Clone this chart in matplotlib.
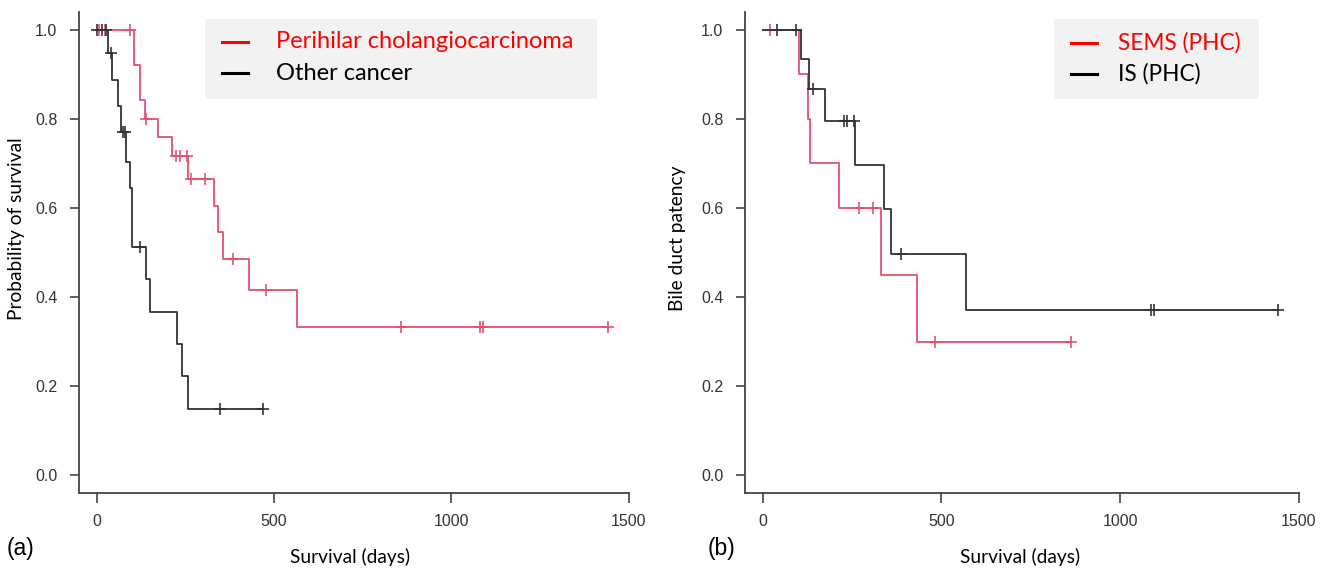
import numpy as np
import matplotlib
matplotlib.use("Agg")
import matplotlib.pyplot as plt
from matplotlib.patches import Rectangle
from matplotlib.lines import Line2D

# --- Kaplan-Meier curves (time in days, survival after each step) ---
# (a) Perihilar cholangiocarcinoma vs other cancer
phc_event_t = [105, 121, 135, 173, 213, 257, 330, 342, 356, 430, 566]
phc_event_s = [0.921, 0.843, 0.80, 0.76, 0.717, 0.665, 0.604, 0.545, 0.485, 0.416, 0.333]
phc_cens_t = [6, 22, 93, 140, 224, 234, 255, 267, 306, 384, 478, 859, 1080, 1089, 1443]
phc_end = 1443

oth_event_t = [32, 44, 60, 69, 82, 93, 100, 140, 151, 227, 240, 258]
oth_event_s = [0.948, 0.888, 0.828, 0.771, 0.704, 0.645, 0.513, 0.441, 0.367, 0.294, 0.222, 0.149]
oth_cens_t = [0, 16, 27, 39, 74, 80, 121, 349, 469]
oth_end = 469

# (b) SEMS vs IS within PHC
sems_event_t = [102, 126, 133, 214, 331, 432]
sems_event_s = [0.90, 0.80, 0.70, 0.60, 0.449, 0.298]
sems_cens_t = [20, 268, 307, 481, 864]
sems_end = 864

is_event_t = [106, 128, 174, 258, 339, 359, 569]
is_event_s = [0.935, 0.867, 0.795, 0.697, 0.597, 0.497, 0.371]
is_cens_t = [39, 92, 139, 226, 235, 256, 386, 1086, 1095, 1443]
is_end = 1443

RED_LINE = '#e4506f'
BLACK_LINE = '#333333'
W, H = 1329, 569

plt.rcParams['font.family'] = ['Lato', 'DejaVu Sans']


def fx(px):
    return px / W


def fy(py):
    return 1 - py / H


def draw_km(ax, ev_t, ev_s, cens_t, end_t, color):
    t = np.concatenate([[0], ev_t, [end_t]])
    s = np.concatenate([[1.0], ev_s, [ev_s[-1]]])
    ax.step(t, s, where='post', color=color, lw=1.3)
    # censor marks sit on the curve value at that time
    idx = np.searchsorted(t[:-1], cens_t, side='right') - 1
    ax.plot(cens_t, s[idx], ls='none', marker='|', ms=9, mew=1.2, color=color)
    ax.plot(cens_t, s[idx], ls='none', marker='_', ms=9, mew=1.2, color=color)


def style_axis(ax):
    ax.set_xlim(-50, 1501)
    ax.set_ylim(-0.04, 1.04)
    ax.set_xticks([0, 500, 1000, 1500])
    ax.set_yticks([0.0, 0.2, 0.4, 0.6, 0.8, 1.0])
    ax.set_yticklabels([f'{v:.1f}' for v in ax.get_yticks()])
    for side in ['top', 'right']:
        ax.spines[side].set_visible(False)
    for side in ['left', 'bottom']:
        ax.spines[side].set_color('#444444')
        ax.spines[side].set_linewidth(1.3)
    ax.tick_params(axis='x', length=7, width=1.2, color='#444444', pad=8,
                   labelsize=11.5, labelcolor='#333333')
    ax.tick_params(axis='y', length=6.5, width=1.2, color='#444444', pad=9,
                   labelsize=11.5, labelcolor='#333333')
    for lab in ax.get_xticklabels() + ax.get_yticklabels():
        lab.set_family('Liberation Sans')


def draw_legend(fig, box, rows, size):
    x0, y0, x1, y1 = box
    fig.patches.append(Rectangle((fx(x0), fy(y1)), fx(x1 - x0), (y1 - y0) / H,
                                 transform=fig.transFigure, facecolor='#f2f2f2',
                                 edgecolor='none', zorder=0))
    for (lx0, lx1, ly, tx, label, lc, tc) in rows:
        fig.lines.append(Line2D([fx(lx0), fx(lx1)], [fy(ly), fy(ly)],
                                transform=fig.transFigure, color=lc, lw=2.2))
        fig.text(fx(tx), fy(ly), label, color=tc, fontsize=size, va='center', ha='left')


fig = plt.figure(figsize=(W / 100, H / 100), dpi=100)

ax1 = fig.add_axes([fx(79), fy(493), (629 - 79) / W, (493 - 12) / H])
draw_km(ax1, phc_event_t, phc_event_s, phc_cens_t, phc_end, RED_LINE)
draw_km(ax1, oth_event_t, oth_event_s, oth_cens_t, oth_end, BLACK_LINE)
style_axis(ax1)

ax2 = fig.add_axes([fx(745), fy(493), (1299 - 745) / W, (493 - 12) / H])
draw_km(ax2, sems_event_t, sems_event_s, sems_cens_t, sems_end, RED_LINE)
draw_km(ax2, is_event_t, is_event_s, is_cens_t, is_end, BLACK_LINE)
style_axis(ax2)

# axis titles and panel letters
fig.text(fx(17), fy(229), 'Probability of survival', rotation=90, fontsize=13.8,
         ha='center', va='center')
fig.text(fx(677), fy(238), 'Bile duct patency', rotation=90, fontsize=13.8,
         ha='center', va='center')
fig.text(fx(350), fy(557), 'Survival (days)', fontsize=13.8, ha='center', va='center')
fig.text(fx(1020), fy(557), 'Survival (days)', fontsize=13.8, ha='center', va='center')
fig.text(fx(7), fy(549), '(a)', fontsize=16.5, family='Liberation Sans', va='center')
fig.text(fx(708), fy(549), '(b)', fontsize=16.5, family='Liberation Sans', va='center')

# legends (grey boxes, no frame)
draw_legend(fig, (205, 19, 597, 99), [
    (222, 248, 42, 276, 'Perihilar cholangiocarcinoma', '#ff0000', '#ff0000'),
    (222, 248, 73, 276, 'Other cancer', 'black', 'black'),
], 17)
draw_legend(fig, (1054, 19, 1259, 99), [
    (1071, 1097, 43, 1118, 'SEMS (PHC)', '#ff0000', '#ff0000'),
    (1071, 1097, 74, 1118, 'IS (PHC)', 'black', 'black'),
], 16.3)

fig.savefig('out.png', dpi=100)
